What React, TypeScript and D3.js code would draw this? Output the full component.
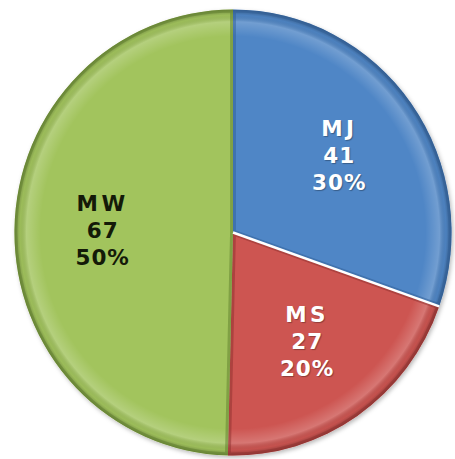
import React from "react";
import * as d3 from "d3";

const categories = ["MJ", "MS", "MW"];
const values = [41, 27, 67];
const colors = ["#5086C6", "#CD5451", "#A2C45D"];
const darkColors = ["#2F5E96", "#8E2F2D", "#5E7D2C"];
const textColors = ["#FFFFFF", "#FFFFFF", "#141a08"];

const W = 455;
const H = 459;
const CX = 233;
const CY = 232.5;
const R = 223;
const SX = 0.98;
const LABEL_R = 133;

export default function App() {
  const total = d3.sum(values);
  const pie = d3
    .pie<number>()
    .sort(null)
    .startAngle(0)
    .endAngle(2 * Math.PI)
    .value((d) => d);
  const arcs = pie(values);
  const arc = d3.arc<d3.PieArcDatum<number>>().innerRadius(0).outerRadius(R);
  const labelArc = d3
    .arc<d3.PieArcDatum<number>>()
    .innerRadius(LABEL_R)
    .outerRadius(LABEL_R);
  const fmtPct = d3.format(".0%");
  const sep = d3.pointRadial(arcs[1].startAngle, R);

  return (
    <div style={{ position: "fixed", left: 0, top: 0, width: W, height: H, background: "#fff" }}>
      <svg width={W} height={H} style={{ display: "block" }}>
        <defs>
          <filter id="shadow" x="-10%" y="-10%" width="120%" height="120%">
            <feDropShadow dx="1.5" dy="2" stdDeviation="2" floodColor="#000" floodOpacity="0.28" />
          </filter>
          <radialGradient id="bevel" gradientUnits="userSpaceOnUse" cx={0} cy={0} r={R}>
            <stop offset="0" stopColor="#fff" stopOpacity="0" />
            <stop offset="0.88" stopColor="#fff" stopOpacity="0" />
            <stop offset="0.945" stopColor="#fff" stopOpacity="0.2" />
            <stop offset="0.975" stopColor="#000" stopOpacity="0.04" />
            <stop offset="1" stopColor="#000" stopOpacity="0.3" />
          </radialGradient>
          {arcs.map((a, i) => (
            <clipPath id={`clip${i}`} key={i}>
              <path d={arc(a) || ""} />
            </clipPath>
          ))}
        </defs>
        <g transform={`translate(${CX},${CY}) scale(${SX},1)`}>
          <g filter="url(#shadow)">
            {arcs.map((a, i) => (
              <path key={`f${i}`} d={arc(a) || ""} fill={colors[i]} />
            ))}
          </g>
          {arcs.map((a, i) => (
            <g key={`b${i}`} clipPath={`url(#clip${i})`}>
              <path d={arc(a) || ""} fill="url(#bevel)" />
              <path d={arc(a) || ""} fill="none" stroke={darkColors[i]} strokeOpacity={0.5} strokeWidth={6} />
            </g>
          ))}
          <line x1={0} y1={0} x2={sep[0]} y2={sep[1]} stroke="#fff" strokeWidth={2.5} />
        </g>
        <g transform={`translate(${CX},${CY})`}>
          {arcs.map((a, i) => {
            const [x0, y] = labelArc.centroid(a);
            const x = x0 * SX;
            const lines = [categories[i], String(values[i]), fmtPct(values[i] / total)];
            return (
              <text
                key={`t${i}`}
                x={x}
                y={y}
                textAnchor="middle"
                fontFamily="'DejaVu Sans', Verdana, sans-serif"
                fontWeight="bold"
                fontSize={21.5}
                fill={textColors[i]}
                style={i < 2 ? { textShadow: "1px 1px 1px rgba(0,0,0,0.3)" } : undefined}
              >
                {lines.map((t, j) => (
                  <tspan
                    key={j}
                    x={x}
                    dy={j === 0 ? -19.5 : 27}
                    letterSpacing={j === 0 ? 3.5 : 1}
                  >
                    {t}
                  </tspan>
                ))}
              </text>
            );
          })}
        </g>
      </svg>
    </div>
  );
}
